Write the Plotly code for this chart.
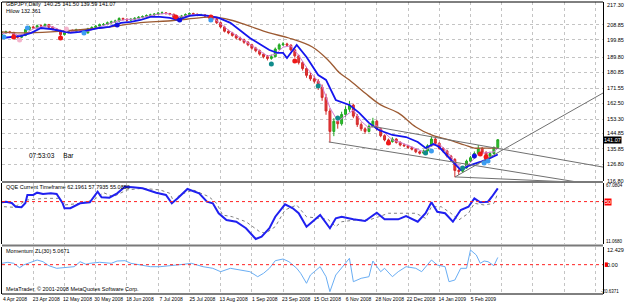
import plotly.graph_objects as go
from plotly.subplots import make_subplots

# ---------------- data (bar index = trading-day number from 4 Apr 2008) ----------------
bar_index = list(range(0, 255, 2))
opens = [203.2,204.0,204.6,204.3,202.0,201.4,202.5,206.0,207.5,207.0,208.2,208.0,208.9,207.4,206.2,205.5,203.0,204.2,205.4,205.0,
         205.8,205.2,204.0,206.4,207.2,208.0,208.8,209.0,210.0,210.5,211.0,212.5,212.0,211.6,212.0,212.6,213.2,213.6,214.2,214.6,
         215.0,215.6,215.8,215.4,215.0,213.0,212.6,214.0,214.8,215.4,215.0,214.4,214.6,214.0,213.0,212.4,210.0,207.5,205.0,204.0,
         202.5,201.0,200.0,198.5,197.0,195.0,193.5,191.5,190.0,189.0,190.0,194.5,197.0,197.5,196.8,194.0,190.5,186.5,183.0,179.0,
         177.0,175.5,172.0,166.0,158.0,146.0,152.0,150.5,156.0,159.0,161.5,155.0,150.0,147.5,146.0,149.0,152.0,147.5,143.5,141.0,
         140.0,141.5,139.5,138.0,137.6,136.5,135.5,134.0,133.2,134.5,137.5,141.5,139.0,136.0,134.5,131.5,129.5,123.0,122.5,124.5,
         128.5,130.5,133.0,136.0,133.5,131.5,133.0,136.5]
highs = [204.8,205.3,205.2,204.6,202.6,203.2,206.6,208.2,208.3,208.9,209.0,209.6,209.3,207.9,206.8,205.9,204.8,206.0,206.1,206.5,
         206.3,205.6,207.0,207.9,208.7,209.5,209.8,210.7,211.2,211.8,213.2,213.0,212.6,212.8,213.3,213.9,214.3,214.9,215.3,215.7,
         216.3,216.6,216.2,215.8,215.3,213.6,214.6,215.5,216.1,215.9,215.4,215.3,215.0,214.4,213.5,212.8,210.6,208.2,205.9,204.6,
         203.3,201.8,200.6,199.2,197.6,195.8,194.2,192.3,191.0,191.2,195.4,197.9,198.6,198.2,197.3,194.6,191.2,187.4,184.0,180.6,
         178.4,176.8,173.6,168.2,159.6,153.8,154.6,157.6,160.8,164.0,162.3,156.2,151.3,148.4,150.2,154.0,152.8,148.2,144.3,141.8,
         142.6,142.0,140.2,138.9,138.2,137.2,136.0,134.6,135.3,138.4,143.0,142.2,139.6,136.8,135.2,132.2,130.3,124.2,125.6,129.4,
         131.6,134.2,138.0,136.8,134.4,134.0,137.2,141.5]
lows = [202.6,203.5,203.6,201.2,200.6,200.9,202.1,205.4,206.3,206.6,207.2,207.6,206.8,205.6,204.9,202.0,202.4,203.7,204.3,204.6,
        204.6,203.4,203.6,205.8,206.7,207.4,208.1,208.5,209.3,209.9,210.6,211.3,210.8,211.0,211.5,212.0,212.6,213.0,213.7,214.0,
        214.5,215.0,214.8,214.3,212.4,211.8,212.2,213.5,214.2,214.4,213.8,213.9,213.4,212.4,211.6,209.2,206.8,204.3,203.2,201.8,
        200.2,199.2,197.6,196.2,194.1,192.6,190.6,189.0,187.8,188.2,189.6,194.0,196.3,195.9,193.2,189.4,185.4,181.8,177.6,175.8,
        174.2,170.4,164.0,155.8,139.5,143.2,147.6,149.4,154.6,157.5,153.8,148.6,146.2,144.6,145.4,148.2,146.6,142.6,140.2,139.0,
        139.4,138.8,137.2,136.8,135.7,134.8,133.2,132.4,132.7,134.0,137.0,138.2,135.2,133.6,130.6,128.5,119.0,120.4,121.6,124.0,
        127.8,129.8,132.4,132.6,130.6,130.9,132.6,136.2]
closes = [204.0,204.6,204.3,202.0,201.4,202.5,206.0,207.5,207.0,208.2,208.0,208.9,207.4,206.2,205.5,203.0,204.2,205.4,205.0,205.8,
          205.2,204.0,206.4,207.2,208.0,208.8,209.0,210.0,210.5,211.0,212.5,212.0,211.6,212.0,212.6,213.2,213.6,214.2,214.6,215.0,
          215.6,215.8,215.4,215.0,213.0,212.6,214.0,214.8,215.4,215.0,214.4,214.6,214.0,213.0,212.4,210.0,207.5,205.0,204.0,202.5,
          201.0,200.0,198.5,197.0,195.0,193.5,191.5,190.0,189.0,190.0,194.5,197.0,197.5,196.8,194.0,190.5,186.5,183.0,179.0,177.0,
          175.5,172.0,166.0,158.0,146.0,152.0,150.5,156.0,159.0,161.5,155.0,150.0,147.5,146.0,149.0,152.0,147.5,143.5,141.0,140.0,
          141.5,139.5,138.0,137.6,136.5,135.5,134.0,133.2,134.5,137.5,141.5,139.0,136.0,134.5,131.5,129.5,123.0,122.5,124.5,128.5,
          130.5,133.0,136.0,133.5,131.5,133.0,136.5,141.07]

# fast (violet) average
violet_x = [0,4,8,12,16,20,24,28,32,36,40,44,48,52,56,60,64,68,72,76,80,84,88,92,96,100,104,108,112,116,120,124,128,132,
            136,140,144,148,152,156,160,164,168,172,176,180,184,188,192,196,200,204,208,212,216,220,224,228,232,236,240,244,248,252,254]
violet_v = [203.6,204.2,202.8,203.5,206.4,207.6,208.2,206.6,204.2,204.6,205.4,205.0,206.8,208.4,209.8,211.2,212.0,212.0,213.1,214.1,
            215.0,215.5,214.6,213.4,214.6,214.8,214.3,213.0,209.5,205.6,202.6,199.8,196.6,193.4,190.4,191.4,195.6,196.4,190.8,183.6,
            178.2,172.6,160.0,152.0,155.2,158.6,152.0,148.0,149.4,145.0,141.0,139.6,137.6,135.6,134.0,137.4,138.6,134.2,128.0,124.0,
            127.6,132.8,133.4,134.0,136.0]
# Hilow (blue) line
hilow_x = [0,5,10,15,20,25,30,35,40,45,50,55,61,66,71,76,81,86,90,96,101,106,111,117,122,127,132,137,141,144,146,149,151,156,162,
           166,171,178,183,188,193,200,207,213,217,221,224,230,235,240,245,250,254]
hilow_v = [201.0,201.6,202.2,204.0,206.9,206.3,205.2,204.0,204.6,205.7,206.9,207.5,209.9,210.5,211.6,213.4,213.4,212.8,211.6,214.0,
           214.6,214.0,212.8,209.9,205.7,201.0,197.5,193.9,192.2,192.2,189.2,193.9,196.9,189.8,179.2,176.3,164.5,161.6,156.9,151.0,
           146.8,143.9,142.7,139.8,136.2,138.6,136.8,129.2,123.3,126.2,128.0,130.3,132.4]
# slow (brown) average
slow_x = [0,10,25,50,71,85,101,108,117,125,137,147,159,167,173,178,186,194,203,212,220,229,237,242,247,254]
slow_v = [204.6,204.0,204.6,206.9,210.0,211.0,212.8,213.4,211.6,208.7,204.0,201.0,195.7,188.1,180.4,176.3,168.6,161.6,156.9,148.6,
          143.9,141.0,138.0,136.2,136.2,136.2]

# signal dots
teal_x = [138, 162, 172, 217, 236]
teal_v = [185.7, 172.8, 153.9, 133.3, 124.5]
red_x = [6, 30, 89, 107, 150, 198, 245, 248]
red_v = [201.6, 201.0, 213.4, 213.4, 187.5, 139.2, 132.7, 130.9]
lblue_x = [1, 13, 42, 107, 220, 247, 249]
lblue_v = [201.6, 206.9, 204.0, 211.6, 134.5, 127.4, 128.6]
dblue_x = [59, 91, 242]
dblue_v = [208.7, 211.6, 131.5]
pink_x = [9, 33]
pink_v = [199.8, 206.3]

# trend lines (bar index, price)
trend_a_x = [167.4, 294.7]; trend_a_v = [139.8, 116.2]
trend_b_x = [188.8, 307.9]; trend_b_v = [149.2, 125.0]
trend_c_x = [232.1, 307.9]; trend_c_v = [119.2, 168.6]
trend_d_x = [232.1, 292.1]; trend_d_v = [119.2, 116.2]

# QQE
qqe_x = [0,2,5,7,10,12,13,16,18,21,25,28,31,32,35,40,45,49,51,55,59,63,67,72,79,84,87,90,95,98,101,105,108,111,115,120,125,130,
         133,137,140,145,149,152,156,159,163,168,171,174,180,186,192,196,203,207,213,217,220,223,227,231,235,239,242,245,249,251,254]
qqe_v = [49.4,49.9,48.7,45.3,44.8,48.7,56.1,56.1,58.2,57.0,57.6,57.0,48.7,43.9,43.9,48.4,49.4,59.1,53.9,53.6,57.6,63.7,63.1,62.2,
         58.2,56.1,48.4,53.0,61.6,59.7,57.6,49.9,48.4,39.3,33.1,31.5,25.5,15.7,17.8,25.5,36.1,47.5,43.9,39.3,27.0,31.5,37.7,25.5,
         34.7,36.1,33.7,32.2,39.8,33.7,33.7,36.8,31.5,39.3,49.4,40.7,39.3,31.5,42.3,45.3,53.0,49.4,49.9,54.5,62.2]
qqe_trail_x = [1,6,13,22,29,32,40,47,52,57,64,72,81,86,88,91,98,106,110,113,118,125,132,135,140,145,151,156,162,167,
               171,174,181,188,193,198,205,212,217,220,225,230,234,239,242,247,252,254]
qqe_trail_v = [45.3,44.8,51.5,53.0,53.0,46.9,48.4,51.5,58.2,54.5,60.7,62.2,60.7,57.6,49.9,56.1,60.7,54.5,48.4,37.7,
               36.1,31.5,22.4,20.9,27.0,42.3,46.9,36.1,34.7,33.7,27.0,31.5,33.1,33.1,36.1,39.3,39.3,39.3,34.7,45.3,
               45.3,39.3,33.1,39.3,48.4,46.9,48.4,57.8]
QQE_LEVEL = 50

# Momentum ZL(30)
mom_x = [0,3,6,9,11,15,18,21,24,28,32,37,40,43,45,50,56,59,63,66,71,76,81,88,93,97,100,103,108,112,
         117,122,127,131,134,137,140,144,147,151,153,156,158,160,163,166,168,171,174,178,180,184,188,190,194,196,200,203,207,212,
         215,218,220,223,227,229,232,235,238,240,243,245,247,249,252,254]
mom_v = [0.96,1.67,0.96,-2.13,-0.23,1.67,3.28,2.09,-0.73,-2.56,-2.13,-1.43,2.09,0.26,0.96,1.67,0.96,2.58,2.79,0.96,
         -0.23,-1.43,-1.43,-0.73,0.26,0.96,-0.23,-1.43,-2.56,-4.95,-2.56,-3.75,-4.95,-8.46,-6.07,-2.56,2.79,3.99,2.09,-2.56,
         -6.07,-13.1,-7.27,-4.95,-1.43,-8.46,-19.0,-7.27,-2.56,4.48,-11.98,-9.59,-8.46,2.58,-4.95,-2.56,-8.46,-4.95,-1.43,-2.56,
         -4.95,-0.23,3.28,-0.23,-1.43,-11.98,-10.8,-2.56,-2.56,10.3,6.8,0.96,2.58,2.09,-0.73,5.07]
MOM_LEVEL = 0

# axes
date_tick_bars = [0,16,32,48,64,80,96,112,128,144,160,176,192,208,224,240,256,272,288,304]
date_tick_text = ["4 Apr 2008","23 Apr 2008","12 May 2008","30 May 2008","18 Jun 2008","7 Jul 2008","25 Jul 2008",
                  "13 Aug 2008","1 Sep 2008","23 Sep 2008","15 Oct 2008","6 Nov 2008","28 Nov 2008","22 Dec 2008",
                  "14 Jan 2009","5 Feb 2009","","","",""]
price_ticks = [208.85,199.85,189.80,180.85,171.55,162.50,153.30,144.85,135.85,126.80,116.80]
PRICE_MIN, PRICE_MAX = 116.8, 222.2
QQE_MIN, QQE_MAX = 11.068, 67.0804
MOM_MIN, MOM_MAX = -20.6371, 12.429
LAST_CLOSE = 141.07
X_MAX = 307.9

# ---------------- figure ----------------
FONT = "Liberation Sans"
FS = 5.5
fig = make_subplots(rows=3, cols=1, shared_xaxes=True, vertical_spacing=0.01)

fig.add_trace(go.Candlestick(x=bar_index, open=opens, high=highs, low=lows, close=closes,
                             increasing=dict(line=dict(color="#22a722", width=1), fillcolor="#2ec22e"),
                             decreasing=dict(line=dict(color="#d42a2a", width=1), fillcolor="#e23a3a"),
                             whiskerwidth=0, hoverinfo="skip"), row=1, col=1)
fig.add_trace(go.Scatter(x=violet_x, y=violet_v, mode="lines", line=dict(color="#d27ad2", width=1)), row=1, col=1)
fig.add_trace(go.Scatter(x=slow_x, y=slow_v, mode="lines", line=dict(color="#9c5a32", width=1.3, shape="spline")), row=1, col=1)
fig.add_trace(go.Scatter(x=hilow_x, y=hilow_v, mode="lines", line=dict(color="#1414ee", width=1.8)), row=1, col=1)
for tx, tv in [(trend_a_x, trend_a_v), (trend_b_x, trend_b_v), (trend_c_x, trend_c_v), (trend_d_x, trend_d_v)]:
    fig.add_trace(go.Scatter(x=tx, y=tv, mode="lines", line=dict(color="#707070", width=1)), row=1, col=1)
for mx, mv, col in [(pink_x, pink_v, "#f4b4cc"), (teal_x, teal_v, "#108c8c"), (red_x, red_v, "#f01818"),
                    (lblue_x, lblue_v, "#3c9cf0"), (dblue_x, dblue_v, "#1010e0")]:
    fig.add_trace(go.Scatter(x=mx, y=mv, mode="markers", marker=dict(color=col, size=5, line=dict(width=0))), row=1, col=1)

fig.add_trace(go.Scatter(x=qqe_trail_x, y=qqe_trail_v, mode="lines", line=dict(color="#808080", width=1, dash="dot")), row=2, col=1)
fig.add_trace(go.Scatter(x=qqe_x, y=qqe_v, mode="lines", line=dict(color="#2020f0", width=2)), row=2, col=1)
fig.add_trace(go.Scatter(x=mom_x, y=mom_v, mode="lines", line=dict(color="#6aaef4", width=1)), row=3, col=1)

# level lines
fig.add_shape(type="line", xref="paper", x0=0, x1=1, yref="y2", y0=QQE_LEVEL, y1=QQE_LEVEL,
              line=dict(color="#ff2020", width=1, dash="dot"))
fig.add_shape(type="line", xref="paper", x0=0, x1=1, yref="y3", y0=MOM_LEVEL, y1=MOM_LEVEL,
              line=dict(color="#ff2020", width=1, dash="dot"))

H_PLOT = 292.0
def py(pix):
    return (294 - pix) / H_PLOT
def px(pix):
    return (pix - 1) / 605.0

# panel separators and frame
for yy in [py(182), py(245.5)]:
    fig.add_shape(type="line", xref="paper", yref="paper", x0=0, x1=1, y0=yy, y1=yy,
                  line=dict(color="#7a7a7a", width=2))
fig.add_shape(type="line", xref="paper", yref="paper", x0=0, x1=1, y0=1, y1=1, line=dict(color="#000000", width=1))
fig.add_shape(type="line", xref="paper", yref="paper", x0=0, x1=1, y0=0, y1=0, line=dict(color="#000000", width=1))

grid = dict(showgrid=True, gridcolor="#c4c4c4", griddash="dot", gridwidth=1, zeroline=False)
common_x = dict(range=[0, X_MAX], tickmode="array", tickvals=date_tick_bars, ticktext=date_tick_text,
                rangeslider=dict(visible=False), showline=False, ticks="", **grid)
fig.update_layout(
    width=625, height=304, margin=dict(l=1, r=19, t=2, b=10),
    paper_bgcolor="white", plot_bgcolor="white", showlegend=False,
    font=dict(family=FONT, size=FS, color="#000000"),
    xaxis=dict(common_x, showticklabels=False),
    xaxis2=dict(common_x, showticklabels=False),
    xaxis3=dict(common_x, showticklabels=True, tickfont=dict(size=5, family=FONT), ticklabelshift=13, ticklabelstandoff=1),
    yaxis=dict(domain=[py(181), 1.0], range=[PRICE_MIN, PRICE_MAX], side="right", tickmode="array",
               tickvals=price_ticks, ticktext=[f"{v:.2f}" for v in price_ticks], tickfont=dict(size=FS, family=FONT),
               showline=True, mirror=True, linecolor="#000000", linewidth=1, ticks="", ticklabelstandoff=2, **grid),
    yaxis2=dict(domain=[py(244), py(183)], range=[QQE_MIN, QQE_MAX], side="right", tickvals=[], showgrid=False,
                zeroline=False, showline=True, mirror=True, linecolor="#000000", linewidth=1),
    yaxis3=dict(domain=[0, py(247)], range=[MOM_MIN, MOM_MAX], side="right", tickvals=[], showgrid=False,
                zeroline=False, showline=True, mirror=True, linecolor="#000000", linewidth=1),
)

def txt(x, y, s, **kw):
    d = dict(x=x, y=y, xref="paper", yref="paper", text=s, showarrow=False, xanchor="left", yanchor="middle",
             font=dict(size=FS, family=FONT, color="#000000"))
    d.update(kw)
    fig.add_annotation(**d)

small = dict(size=4.5, family=FONT, color="#000000")
txt(px(3), py(4.5), "GBPJPY,Daily  140.25 141.50 139.59 141.07")
txt(px(3), py(11.5), "Hilow 132.361")
txt(px(26), py(155), "07:53:03&nbsp;&nbsp;&nbsp;&nbsp;&nbsp;Bar", font=dict(size=6.5, family=FONT, color="#000000"))
txt(px(3), py(187.5), "QQE Current Timeframe 62.1961 57.7935 55.0850")
txt(px(3), py(251), "Momentum ZL(30) 5.0671")
txt(px(3), py(289), "MetaTrader, © 2001-2008 MetaQuotes Software Corp.")
# right scale labels at panel edges
txt(1.003, py(5), "217.30")
txt(px(607.5), py(185.5), "67.0804", font=small)
txt(px(607.5), py(241), "11.0680", font=small)
txt(1.003, py(250), "12.429")
txt(px(624.5), py(291.5), "-20.6371", xanchor="right", font=small)
fig.add_annotation(x=1.0, xref="paper", y=LAST_CLOSE, yref="y", text=f"{LAST_CLOSE:.2f}", showarrow=False,
                   xanchor="left", yanchor="middle", bgcolor="#000000", borderpad=0,
                   font=dict(size=FS, family=FONT, color="#ffffff"))
fig.add_annotation(x=1.002, xref="paper", y=QQE_LEVEL, yref="y2", text=f"{QQE_LEVEL}", showarrow=False,
                   xanchor="left", yanchor="middle", bgcolor="#ff0000", borderpad=0,
                   font=dict(size=FS, family=FONT, color="#ffffff"))
fig.add_annotation(x=1.003, xref="paper", y=MOM_LEVEL, yref="y3", text=f"{MOM_LEVEL:.2f}", showarrow=False,
                   xanchor="left", yanchor="middle", font=dict(size=FS, family=FONT, color="#000000"))
fig.add_shape(type="rect", xref="paper", x0=1.003, x1=1.008, yref="y3", y0=MOM_LEVEL - 1.6, y1=MOM_LEVEL + 1.6,
              fillcolor="#ff0000", line=dict(width=0))

fig.write_html("out.html")
